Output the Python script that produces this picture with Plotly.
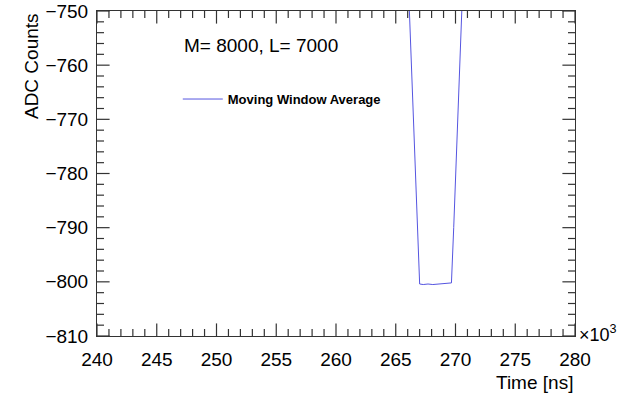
import plotly.graph_objects as go

# Moving window average of the ADC waveform (time in units of 10^3 ns)
time_kns = [265.80, 266.15, 266.35, 266.55, 266.75, 266.90, 267.00,
            267.30, 267.70, 268.10, 268.50, 268.90, 269.30, 269.66,
            269.85, 270.05, 270.25, 270.54, 270.90]
adc_counts = [-730.0, -750.0, -762.0, -774.0, -786.0, -795.0, -800.4,
              -800.5, -800.4, -800.5, -800.4, -800.4, -800.3, -800.2,
              -790.0, -778.0, -767.0, -750.0, -728.0]

x_range = [240, 280]
y_range = [-810, -750]
x_major_ticks = [240, 245, 250, 255, 260, 265, 270, 275, 280]
y_major_ticks = [-810, -800, -790, -780, -770, -760, -750]
x_minor_ticks = [v for v in range(240, 281, 1) if v not in x_major_ticks]
y_minor_ticks = [v for v in range(-810, -749, 2) if v not in y_major_ticks]

FONT = "Liberation Sans, Arial, Helvetica, sans-serif"
LINE_COLOR = "#5555e0"
AXIS_COLOR = "#333333"

fig = go.Figure()
fig.add_trace(go.Scatter(
    x=time_kns, y=adc_counts, mode="lines",
    line=dict(color=LINE_COLOR, width=1),
    name="<b>Moving Window Average</b>",
))


def frame_ticks(xs, ys, symbol, size):
    # tick marks sitting on the frame; the half outside the plot is clipped
    fig.add_trace(go.Scatter(
        x=xs, y=ys, mode="markers", cliponaxis=True,
        marker=dict(symbol=symbol, size=size, color=AXIS_COLOR,
                    line=dict(color=AXIS_COLOR, width=1.2)),
        showlegend=False, hoverinfo="skip",
    ))


for ticks, size in ((x_major_ticks, 18), (x_minor_ticks, 10)):
    frame_ticks(ticks * 2, [y_range[0]] * len(ticks) + [y_range[1]] * len(ticks),
                "line-ns", size)
for ticks, size in ((y_major_ticks, 18), (y_minor_ticks, 10)):
    frame_ticks([x_range[0]] * len(ticks) + [x_range[1]] * len(ticks), ticks * 2,
                "line-ew", size)

axis_common = dict(
    showgrid=False, zeroline=False, automargin=False,
    showline=True, linecolor=AXIS_COLOR, linewidth=1, mirror=True,
    ticks="", tickfont=dict(family=FONT, size=19, color="black"),
    ticklabeloverflow="allow", layer="above traces",
    tickmode="array",
)

fig.update_xaxes(range=x_range, tickvals=x_major_ticks, ticklabelstandoff=6,
                 **axis_common)
fig.update_yaxes(range=y_range, tickvals=y_major_ticks, ticklabelstandoff=4,
                 **axis_common)

fig.update_layout(
    width=618, height=394,
    margin=dict(l=97, r=43, t=11, b=58),
    paper_bgcolor="white", plot_bgcolor="white",
    showlegend=True,
    legend=dict(
        x=0.169, y=0.729, xanchor="left", yanchor="middle",
        bgcolor="rgba(255,255,255,0)", borderwidth=0,
        font=dict(family=FONT, size=13, color="black"),
        itemwidth=40,
    ),
    annotations=[
        dict(text="M= 8000, L= 7000", xref="paper", yref="paper",
             x=0.177, y=0.895, xanchor="left", yanchor="middle", showarrow=False,
             font=dict(family=FONT, size=19, color="black")),
        dict(text="ADC Counts", xref="paper", yref="paper",
             x=-0.138, y=1.0, xanchor="center", yanchor="top", textangle=-90,
             showarrow=False, font=dict(family=FONT, size=19, color="black")),
        dict(text="Time [ns]", xref="paper", yref="paper",
             x=1.0, y=-0.105, xanchor="right", yanchor="top", showarrow=False,
             font=dict(family=FONT, size=19, color="black")),
        dict(text="\u00d710<sup>3</sup>", xref="paper", yref="paper",
             x=1.004, y=-0.035, xanchor="left", yanchor="bottom", showarrow=False,
             font=dict(family=FONT, size=18, color="black")),
    ],
)

fig.write_html("out.html")
